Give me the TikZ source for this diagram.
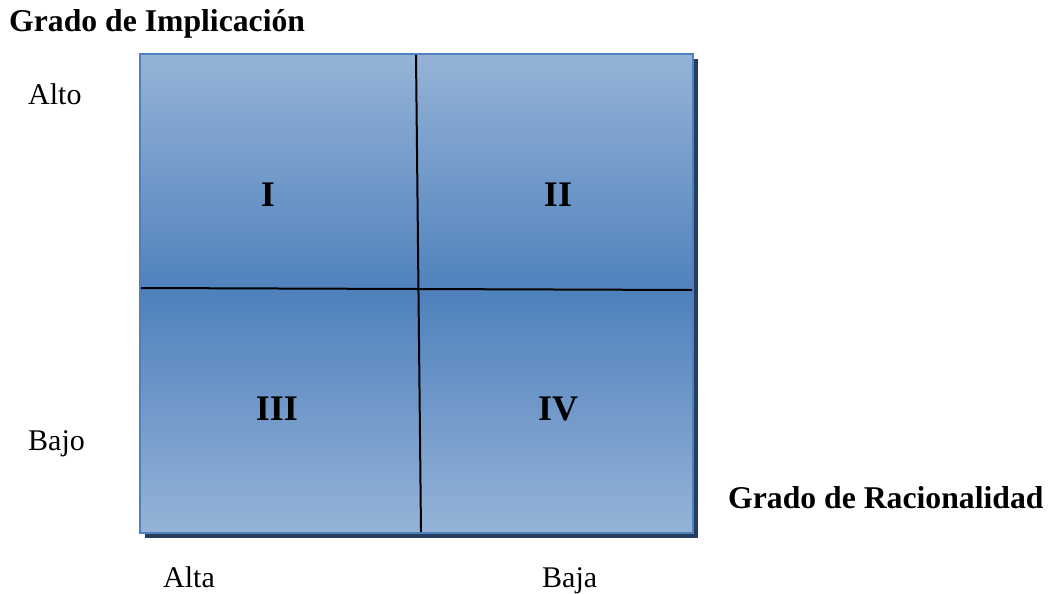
\documentclass[tikz,border=0pt]{standalone}
\usepackage{fontspec}
\setmainfont{Liberation Serif}
\definecolor{lightblue}{HTML}{95B3D7}
\definecolor{midblue}{HTML}{4F81BD}
\definecolor{shadowblue}{HTML}{243F60}
\tikzset{
  lbl/.style={anchor=base west, inner sep=0pt, font=\fontsize{30}{36}\selectfont},
  ttl/.style={anchor=base west, inner sep=0pt, font=\fontsize{31.7}{38}\selectfont\bfseries},
  quad/.style={anchor=base, inner sep=0pt, font=\fontsize{36}{42}\selectfont\bfseries},
  divider/.style={draw=black, line width=2pt},
}
\begin{document}
\begin{tikzpicture}[x=1pt, y=-1pt]
\useasboundingbox (0,0) rectangle (1057,594);
% shadow
\fill[shadowblue] (145,59) rectangle (698,538);
% matrix box
\shade[top color=lightblue, bottom color=lightblue, middle color=midblue, shading=axis]
  (140,54) rectangle (693,533);
\draw[midblue, line width=2pt] (140,54) rectangle (693,533);
% divider end points
\coordinate (vtop) at (416,55);
\coordinate (vbot) at (421,532);
\coordinate (hleft) at (141,288);
\coordinate (hright) at (692,290);
\draw[divider] (vtop) -- (vbot);
\draw[divider] (hleft) -- (hright);
% quadrant labels
\node[quad] (q1) at (268,206) {I};
\node[quad] (q2) at (558,206) {II};
\node[quad] (q3) at (277,420) {III};
\node[quad] (q4) at (558,420) {IV};
% axis labels
\node[ttl] (ytitle) at (9,32) {Grado de Implicación};
\node[ttl] (xtitle) at (728,508) {Grado de Racionalidad};
\node[lbl] (alto) at (28,104) {Alto};
\node[lbl] (bajo) at (28,450) {Bajo};
\node[lbl] (alta) at (163,587) {Alta};
\node[lbl] (baja) at (542,587) {Baja};
\end{tikzpicture}
\end{document}
